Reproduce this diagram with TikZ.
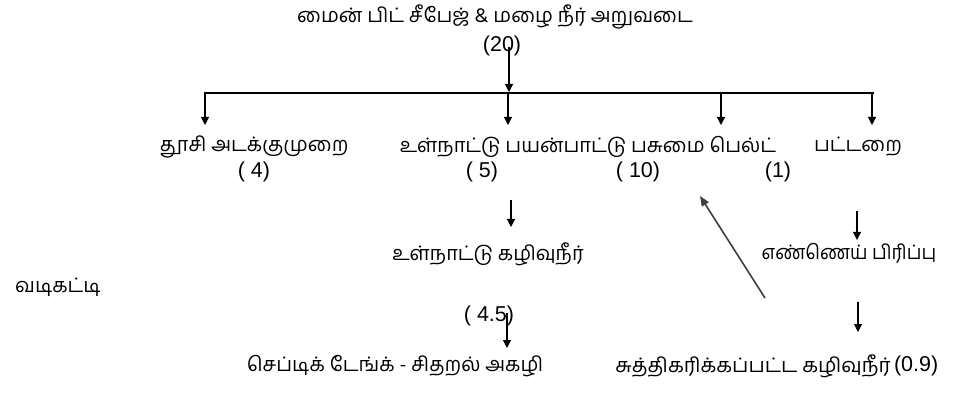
\documentclass[tikz,border=0pt]{standalone}
\usepackage{fontspec}
\setmainfont{Liberation Sans}
\newfontfamily\tamil[Script=Tamil]{Hind Madurai}
\usetikzlibrary{arrows.meta}
\begin{document}
\begin{tikzpicture}[x=1pt,y=-1pt,
  lbl/.style={inner sep=0pt, font=\tamil\fontsize{20}{22}\selectfont},
  num/.style={inner sep=0pt, font=\fontsize{21.5}{24}\selectfont},
  arr/.style={line width=1.1pt, -{Triangle[length=8pt,width=8pt]}},
  ln/.style={line width=1.1pt}]
\useasboundingbox (0,0) rectangle (956,398);
\fill[white] (0,0) rectangle (956,398);
% title
\node[lbl] (title) at (495,17) {மைன் பிட் சீபேஜ் \& மழை நீர் அறுவடை};
\node[num] (n20) at (502,46) {(20)};
% bar
\coordinate (top) at (509,47);
\coordinate (bj) at (509,92);
\coordinate (bl) at (204,93);
\coordinate (br) at (874,93);
\draw[arr] (top) -- (bj);
\draw[ln] (bl) -- (br);
\coordinate (b1) at (205,93);
\coordinate (b2) at (508,93);
\coordinate (b3) at (721,93);
\coordinate (b4) at (872,93);
\coordinate (e1) at (205,125);
\coordinate (e2) at (508,125);
\coordinate (e3) at (721,125);
\coordinate (e4) at (872,125);
\draw[arr] (b1) -- (e1);
\draw[arr] (b2) -- (e2);
\draw[arr] (b3) -- (e3);
\draw[arr] (b4) -- (e4);
% second row
\node[lbl] (dust) at (254,147) {தூசி அடக்குமுறை};
\node[lbl] (dom) at (588,147) {உள்நாட்டு பயன்பாட்டு பசுமை பெல்ட்};
\node[lbl] (work) at (858,147) {பட்டறை};
\node[num] (n4) at (254,172) {( 4)};
\node[num] (n5) at (482,172) {( 5)};
\node[num] (n10) at (638,172) {( 10)};
\node[num] (n1) at (778,172) {(1)};
% middle
\coordinate (m1) at (511,200);
\coordinate (m2) at (511,227);
\draw[arr] (m1) -- (m2);
\node[lbl] (sew) at (488,254) {உள்நாட்டு கழிவுநீர்};
\node[lbl] (filt) at (58,287) {வடிகட்டி};
\coordinate (r1) at (857,211);
\coordinate (r2) at (857,240);
\draw[arr] (r1) -- (r2);
\node[lbl] (oil) at (849,253) {\scalebox{0.93}[1]{எண்ணெய் பிரிப்பு}};
\coordinate (r3) at (858,302);
\coordinate (r4) at (858,332);
\draw[arr] (r3) -- (r4);
\coordinate (d1) at (765,298);
\coordinate (d2) at (700,196);
\draw[line width=1.6pt, black!75, -{Triangle[length=10pt,width=8pt]}] (d1) -- (d2);
% bottom
\node[num] (n45) at (489,316) {( 4.5)};
\coordinate (s1) at (507,313);
\coordinate (s2) at (507,348);
\draw[arr] (s1) -- (s2);
\node[lbl] (sept) at (395,366) {செப்டிக் டேங்க் - சிதறல் அகழி};
\node[lbl] (treat) at (753,366) {\scalebox{1.03}[1]{சுத்திகரிக்கப்பட்ட கழிவுநீர்}};
\node[num, anchor=west] (n09) at ([xshift=3pt]treat.east) {(0.9)};
\end{tikzpicture}
\end{document}
